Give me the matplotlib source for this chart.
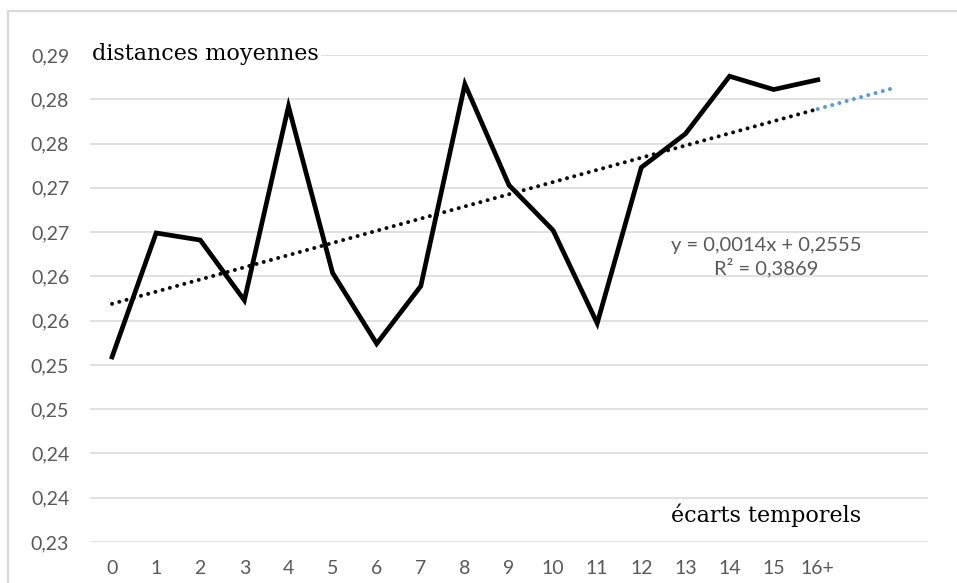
import numpy as np
import matplotlib.pyplot as plt
from matplotlib.patches import Rectangle

# data
categories = ["0", "1", "2", "3", "4", "5", "6", "7", "8", "9",
              "10", "11", "12", "13", "14", "15", "16+"]
distances = [0.2509, 0.2649, 0.2641, 0.2573, 0.2792, 0.2604, 0.2524, 0.2589,
             0.2817, 0.2703, 0.2652, 0.2547, 0.2723, 0.2761, 0.2826, 0.2811, 0.2822]
y_ticks = [0.230, 0.235, 0.240, 0.245, 0.250, 0.255, 0.260,
           0.265, 0.270, 0.275, 0.280, 0.285]
y_tick_labels = ["0,23", "0,24", "0,24", "0,25", "0,25", "0,26",
                 "0,26", "0,27", "0,27", "0,28", "0,28", "0,29"]
forecast = 1.8
equation = "y = 0,0014x + 0,2555\nR² = 0,3869"

W, H = 957, 583
fig = plt.figure(figsize=(W / 100, H / 100), dpi=100)
fig.patches.append(Rectangle((8 / W, -0.1), 1.2, (H - 11) / H + 0.1,
                             transform=fig.transFigure, fill=False,
                             edgecolor="#d9d9d9", linewidth=1.5))

ax = fig.add_axes([90 / W, (H - 542) / H, 838 / W, 487 / H])
x = np.arange(len(distances))

ax.set_xlim(-0.5, 18.5)
ax.set_ylim(0.23, 0.285)
for s in ax.spines.values():
    s.set_visible(False)
ax.set_yticks(y_ticks)
ax.set_yticklabels(y_tick_labels)
ax.set_xticks(x)
ax.set_xticklabels(categories)
ax.tick_params(length=0, labelsize=14, labelcolor="#595959")
ax.tick_params(axis="y", pad=15)
ax.tick_params(axis="x", pad=13)
for lab in ax.get_xticklabels() + ax.get_yticklabels():
    lab.set_family("Lato")
ax.yaxis.grid(True, color="#d9d9d9", linewidth=1.1)
ax.set_axisbelow(True)

ax.plot(x, distances, color="black", linewidth=3.4, solid_joinstyle="miter", zorder=3)

# linear trend, with forward forecast
slope, icpt = np.polyfit(x, distances, 1)
dots = (0, (0.01, 1.85))
xt = np.array([0, x[-1]])
ax.plot(xt, slope * xt + icpt, color="#0d0d0d", linestyle=dots,
        linewidth=2.9, dash_capstyle="round", zorder=2)
xf = np.array([x[-1], x[-1] + forecast])
ax.plot(xf, slope * xf + icpt, color="#5b9bd5", linestyle=dots,
        linewidth=2.9, dash_capstyle="round", zorder=2)

ax.text(766 / W, (H - 257) / H, equation, transform=fig.transFigure,
        ha="center", va="center", fontsize=14.5, color="#595959",
        family="Lato", linespacing=1.2)

fig.text(92 / W, (H - 54) / H, "distances moyennes", ha="left", va="center",
         fontsize=16, family="DejaVu Serif", color="black",
         bbox=dict(facecolor="white", edgecolor="none", pad=2))
fig.text(766 / W, (H - 515) / H, "écarts temporels", ha="center", va="center",
         fontsize=16, family="DejaVu Serif", color="black",
         bbox=dict(facecolor="white", edgecolor="none", pad=2))

fig.savefig("out.png", dpi=100)
